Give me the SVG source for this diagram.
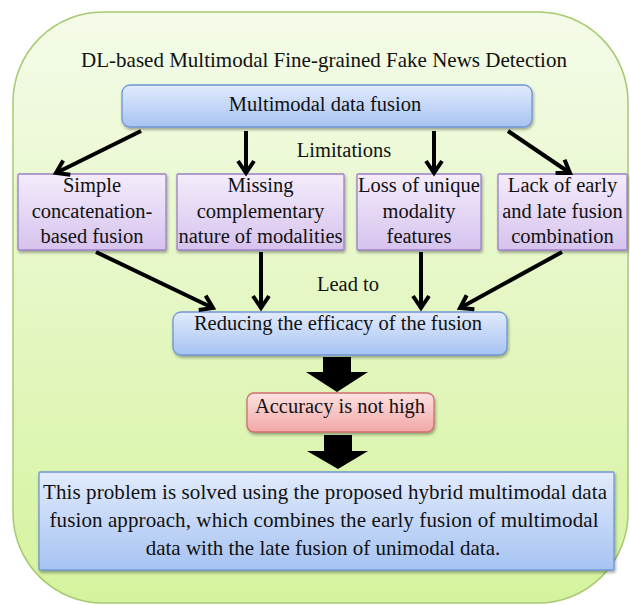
<svg xmlns="http://www.w3.org/2000/svg" width="630" height="605" viewBox="0 0 630 605">
  <defs>
    <linearGradient id="gBg" x1="0" y1="0" x2="0" y2="1">
      <stop offset="0" stop-color="#f4fbe9"/>
      <stop offset="1" stop-color="#d5f39e"/>
    </linearGradient>
    <linearGradient id="gBlue" x1="0" y1="0" x2="0" y2="1">
      <stop offset="0" stop-color="#e2ebfc"/>
      <stop offset="1" stop-color="#a6c3f2"/>
    </linearGradient>
    <linearGradient id="gPurple" x1="0" y1="0" x2="0" y2="1">
      <stop offset="0" stop-color="#f4ecfb"/>
      <stop offset="1" stop-color="#d6c3ee"/>
    </linearGradient>
    <linearGradient id="gRed" x1="0" y1="0" x2="0" y2="1">
      <stop offset="0" stop-color="#fde2e2"/>
      <stop offset="1" stop-color="#f2a6a6"/>
    </linearGradient>
    <filter id="shadow" x="-10%" y="-20%" width="120%" height="150%">
      <feDropShadow dx="1" dy="2" stdDeviation="1.5" flood-color="#000" flood-opacity="0.35"/>
    </filter>
    <marker id="head" viewBox="0 0 20 20" markerWidth="20" markerHeight="20" refX="16" refY="10" orient="auto" markerUnits="userSpaceOnUse">
      <path d="M4,2 L16,10 L4,18" fill="none" stroke="#000" stroke-width="4" stroke-linejoin="miter"/>
    </marker>
  </defs>
  <style>
    text { font-family: "Liberation Serif", "Times New Roman", serif; fill: #111; text-anchor: middle; }
    .t { font-size: 20.5px; }
    .big { font-size: 21px; }
    .blue { fill: url(#gBlue); stroke: #6f96d6; stroke-width: 1.3; filter: url(#shadow); }
    .purple { fill: url(#gPurple); stroke: #9c80c6; stroke-width: 1.3; filter: url(#shadow); }
    .red { fill: url(#gRed); stroke: #cf6e6e; stroke-width: 1.3; filter: url(#shadow); }
    .conn line { stroke: #000; stroke-width: 4; marker-end: url(#head); }
    .block { fill: #000; }
  </style>

  <!-- background panel -->
  <rect x="13" y="12" width="615" height="591" rx="90" ry="90" fill="url(#gBg)" stroke="#a6ca6f" stroke-width="1.5"/>
  <text class="big" x="324" y="67">DL-based Multimodal Fine-grained Fake News Detection</text>

  <g id="fusion">
    <rect class="blue" x="122" y="85" width="410" height="42" rx="8"/>
    <text class="t" x="325" y="111">Multimodal data fusion</text>
  </g>

  <text class="t" x="344" y="157">Limitations</text>
  <text class="t" x="348" y="291">Lead to</text>

  <g id="lim1">
    <rect class="purple" x="18" y="174" width="148" height="76" rx="1"/>
    <text class="t" x="92" y="192">Simple</text>
    <text class="t" x="92" y="218">concatenation-</text>
    <text class="t" x="92" y="243">based fusion</text>
  </g>
  <g id="lim2">
    <rect class="purple" x="177" y="174" width="167" height="76" rx="1"/>
    <text class="t" x="260.5" y="192">Missing</text>
    <text class="t" x="260.5" y="218">complementary</text>
    <text class="t" x="260.5" y="243">nature of modalities</text>
  </g>
  <g id="lim3">
    <rect class="purple" x="357" y="174" width="124" height="76" rx="1"/>
    <text class="t" x="419" y="192">Loss of unique</text>
    <text class="t" x="419" y="218">modality</text>
    <text class="t" x="419" y="243">features</text>
  </g>
  <g id="lim4">
    <rect class="purple" x="498" y="174" width="129" height="76" rx="1"/>
    <text class="t" x="562.5" y="192">Lack of early</text>
    <text class="t" x="562.5" y="218">and late fusion</text>
    <text class="t" x="562.5" y="243">combination</text>
  </g>

  <g id="reduce">
    <rect class="blue" x="173" y="312" width="334" height="43" rx="8"/>
    <text class="t" x="338" y="330">Reducing the efficacy of the fusion</text>
  </g>

  <g id="accuracy">
    <rect class="red" x="247" y="393" width="187" height="39" rx="7"/>
    <text class="t" x="340" y="413">Accuracy is not high</text>
  </g>

  <g id="solution">
    <rect class="blue" x="39" y="472" width="575" height="98" rx="1"/>
    <text class="big" x="325" y="499" textLength="564" lengthAdjust="spacing">This problem is solved using the proposed hybrid multimodal data</text>
    <text class="big" x="324" y="527" textLength="549" lengthAdjust="spacing">fusion approach, which combines the early fusion of multimodal</text>
    <text class="big" x="323" y="555">data with the late fusion of unimodal data.</text>
  </g>

  <!-- connectors -->
  <g class="conn">
    <line x1="141" y1="131" x2="56" y2="173"/>
    <line x1="246" y1="131" x2="246" y2="173"/>
    <line x1="434" y1="131" x2="434" y2="173"/>
    <line x1="508" y1="131" x2="570" y2="173"/>
    <line x1="96" y1="252" x2="213" y2="308"/>
    <line x1="261" y1="252" x2="261" y2="308"/>
    <line x1="421" y1="252" x2="421" y2="308"/>
    <line x1="562" y1="252" x2="460" y2="308"/>
    <polygon class="block" points="323,357 351,357 351,372 368,372 337,392 306,372 323,372"/>
    <polygon class="block" points="324,435 352,435 352,451 368,451 338,469 307,451 324,451"/>
  </g>
</svg>
